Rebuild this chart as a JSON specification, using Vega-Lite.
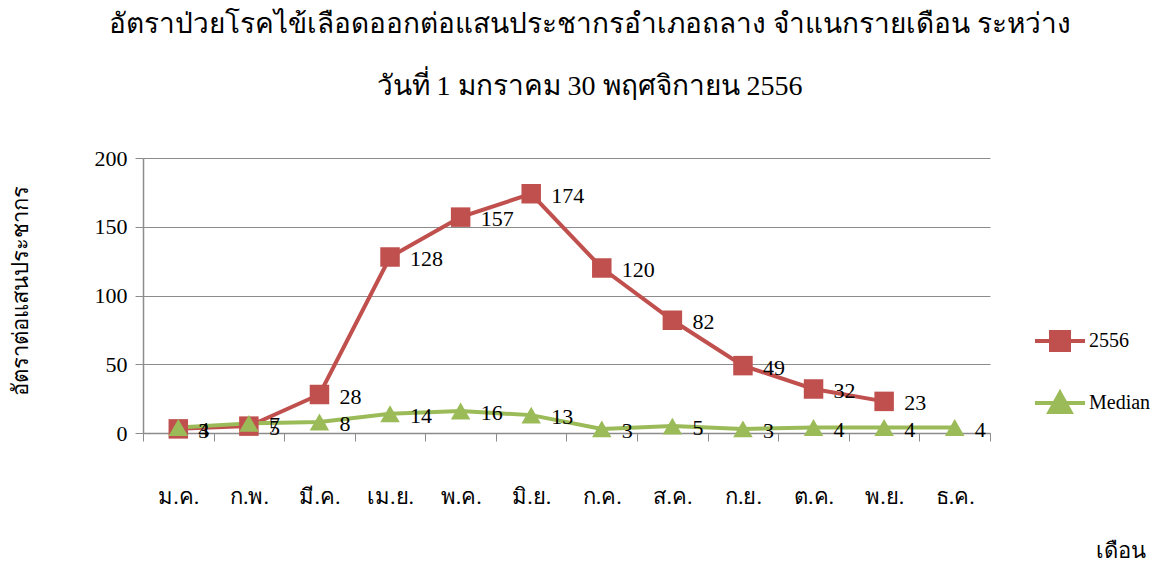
{
  "$schema": "https://vega.github.io/schema/vega-lite/v6.json",
  "width": 847,
  "height": 275,
  "autosize": {"type": "none"},
  "padding": {"left": 143, "top": 158, "right": 180, "bottom": 132},
  "background": "white",
  "title": {
    "text": ["อัตราป่วยโรคไข้เลือดออกต่อแสนประชากรอำเภอถลาง จำแนกรายเดือน ระหว่าง", "วันที่ 1 มกราคม 30 พฤศจิกายน 2556"],
    "font": "Liberation Serif",
    "fontSize": 28,
    "fontWeight": "normal",
    "color": "black",
    "lineHeight": 62,
    "anchor": "middle",
    "frame": "group",
    "offset": 46,
    "dx": 23
  },
  "config": {
    "view": {"stroke": null},
    "font": "Liberation Serif",
    "legend": {
      "orient": "none",
      "legendX": 890,
      "legendY": 156,
      "labelFont": "Liberation Serif",
      "labelFontSize": 20,
      "labelColor": "black",
      "labelOffset": 2,
      "rowPadding": 18,
      "symbolSize": 2500,
      "symbolOpacity": 1,
      "symbolStrokeWidth": 4
    }
  },
  "data": {
    "values": [
      {"month": "ม.ค.", "series": "2556", "value": 3},
      {"month": "ก.พ.", "series": "2556", "value": 5},
      {"month": "มี.ค.", "series": "2556", "value": 28},
      {"month": "เม.ย.", "series": "2556", "value": 128},
      {"month": "พ.ค.", "series": "2556", "value": 157},
      {"month": "มิ.ย.", "series": "2556", "value": 174},
      {"month": "ก.ค.", "series": "2556", "value": 120},
      {"month": "ส.ค.", "series": "2556", "value": 82},
      {"month": "ก.ย.", "series": "2556", "value": 49},
      {"month": "ต.ค.", "series": "2556", "value": 32},
      {"month": "พ.ย.", "series": "2556", "value": 23},
      {"month": "ม.ค.", "series": "Median", "value": 4},
      {"month": "ก.พ.", "series": "Median", "value": 7},
      {"month": "มี.ค.", "series": "Median", "value": 8},
      {"month": "เม.ย.", "series": "Median", "value": 14},
      {"month": "พ.ค.", "series": "Median", "value": 16},
      {"month": "มิ.ย.", "series": "Median", "value": 13},
      {"month": "ก.ค.", "series": "Median", "value": 3},
      {"month": "ส.ค.", "series": "Median", "value": 5},
      {"month": "ก.ย.", "series": "Median", "value": 3},
      {"month": "ต.ค.", "series": "Median", "value": 4},
      {"month": "พ.ย.", "series": "Median", "value": 4},
      {"month": "ธ.ค.", "series": "Median", "value": 4}
    ]
  },
  "encoding": {
    "x": {
      "field": "month",
      "type": "ordinal",
      "sort": ["ม.ค.", "ก.พ.", "มี.ค.", "เม.ย.", "พ.ค.", "มิ.ย.", "ก.ค.", "ส.ค.", "ก.ย.", "ต.ค.", "พ.ย.", "ธ.ค."],
      "scale": {"type": "band", "paddingInner": 0, "paddingOuter": 0},
      "axis": {
        "title": "เดือน",
        "titleFont": "Liberation Serif",
        "titleFontSize": 22,
        "titleFontWeight": "normal",
        "titleColor": "black",
        "titleAnchor": null,
        "titleAlign": "center",
        "titleBaseline": "middle",
        "titleX": 977,
        "titleY": 117,
        "labelAngle": 0,
        "labelFont": "Liberation Serif",
        "labelFontSize": 22,
        "labelColor": "black",
        "labelPadding": 55,
        "labelBaseline": "middle",
        "tickBand": "extent",
        "tickSize": 8,
        "tickColor": "#8c8c8c",
        "domainColor": "#8c8c8c",
        "domainWidth": 1.5,
        "grid": false
      }
    },
    "y": {
      "field": "value",
      "type": "quantitative",
      "scale": {"domain": [0, 200], "nice": false},
      "axis": {
        "values": [0, 50, 100, 150, 200],
        "title": "อัตราต่อแสนประชากร",
        "titleFont": "Liberation Serif",
        "titleFontSize": 22,
        "titleFontWeight": "normal",
        "titleColor": "black",
        "titleAngle": -90,
        "titleAlign": "center",
        "titleBaseline": "middle",
        "titleX": -123,
        "titleY": 132,
        "labelFont": "Liberation Serif",
        "labelFontSize": 22,
        "labelColor": "black",
        "labelPadding": 8,
        "tickSize": 8,
        "tickColor": "#8c8c8c",
        "domainColor": "#8c8c8c",
        "domainWidth": 1.5,
        "gridColor": "#8c8c8c",
        "gridWidth": 1
      }
    }
  },
  "layer": [
    {
      "mark": {"type": "line", "strokeWidth": 4},
      "encoding": {
        "color": {
          "field": "series",
          "type": "nominal",
          "scale": {"domain": ["2556", "Median"], "range": ["#C0504D", "#9BBB59"]},
          "legend": null
        }
      }
    },
    {
      "mark": {"type": "point", "filled": true, "opacity": 1, "size": 380},
      "encoding": {
        "color": {
          "field": "series",
          "type": "nominal",
          "scale": {"domain": ["2556", "Median"], "range": ["#C0504D", "#9BBB59"]},
          "legend": null
        },
        "shape": {
          "field": "series",
          "type": "nominal",
          "scale": {"domain": ["2556", "Median"], "range": ["square", "triangle-up"]},
          "legend": null
        }
      }
    },
    {
      "mark": {"type": "text", "align": "left", "baseline": "middle", "dx": 20, "dy": 2, "fontSize": 22, "font": "Liberation Serif", "color": "black"},
      "encoding": {
        "text": {"field": "value", "type": "quantitative"}
      }
    },
    {
      "mark": {"type": "point", "size": 0, "strokeWidth": 4},
      "encoding": {
        "fill": {
          "field": "series",
          "type": "nominal",
          "title": null,
          "scale": {"domain": ["2556", "Median"], "range": ["#C0504D", "#9BBB59"]}
        },
        "stroke": {
          "field": "series",
          "type": "nominal",
          "title": null,
          "scale": {"domain": ["2556", "Median"], "range": ["#C0504D", "#9BBB59"]}
        },
        "shape": {
          "field": "series",
          "type": "nominal",
          "title": null,
          "scale": {"domain": ["2556", "Median"], "range": ["M-1,0H1M-0.36,-0.36H0.36V0.36H-0.36Z", "M-1,0H1M0,-0.4L0.42,0.36H-0.42Z"]}
        }
      }
    }
  ],
  "resolve": {"scale": {"shape": "independent", "fill": "independent", "stroke": "independent"}}
}
